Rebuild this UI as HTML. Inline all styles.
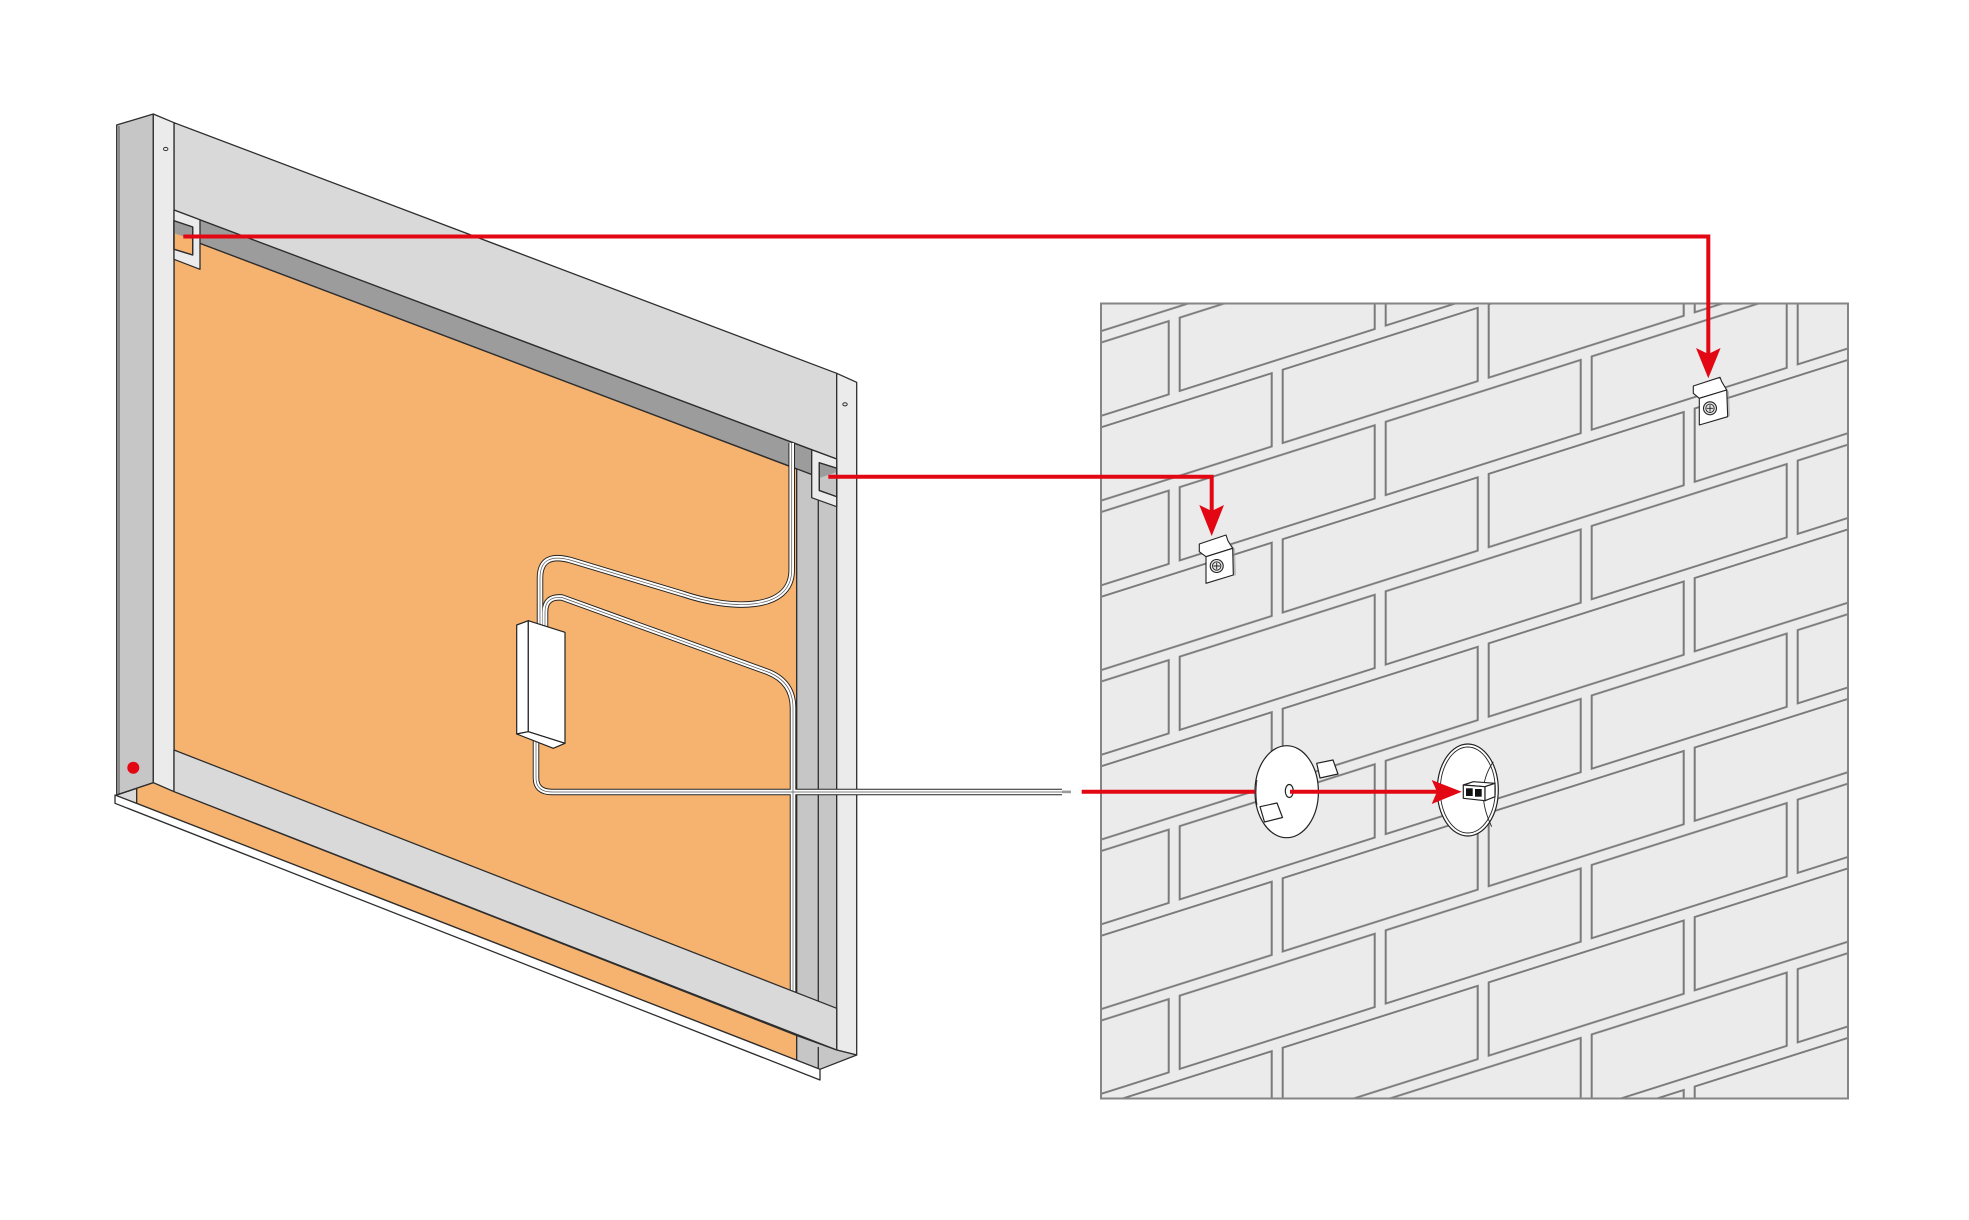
<!DOCTYPE html>
<html>
<head>
<meta charset="utf-8">
<style>
html,body{margin:0;padding:0;background:#fff;}
svg{display:block;}
</style>
</head>
<body>
<svg width="1969" height="1220" viewBox="0 0 1969 1220" xmlns="http://www.w3.org/2000/svg">
<defs>
<pattern id="bricks" patternUnits="userSpaceOnUse" x="1277.7" y="771.6" width="206" height="169.5" patternTransform="skewY(-17.6)">
<rect x="0" y="0" width="206" height="169.5" fill="#ebebeb"/>
<g fill="none" stroke="#7a7a7a" stroke-width="2">
<rect x="5" y="5" width="195" height="73.3"/>
<rect x="-98" y="89.75" width="195" height="73.3"/>
<rect x="108" y="89.75" width="195" height="73.3"/>
</g>
</pattern>
</defs>

<!-- WALL -->
<rect x="1101" y="303.5" width="747" height="795" fill="url(#bricks)"/>
<rect x="1101" y="303.5" width="747" height="795" fill="none" stroke="#858585" stroke-width="2"/>

<!-- FRAME (back parts) -->
<g stroke="#2e2e2e" stroke-width="1.3" stroke-linejoin="round">
<polygon points="174,233.5 796.7,469 796.7,1036 174,750" fill="#f6b370"/>
<polygon points="796.7,440 836.7,455 836.7,1050 796.7,1036" fill="#c6c6c6"/>
<line x1="818.3" y1="500" x2="818.3" y2="1003"/>
<polygon points="174,210 811.7,449.8 811.7,474.5 174,233.5" fill="#9c9c9c"/>
<polygon points="174,122.7 836.7,373.3 836.7,459 174,210" fill="#d9d9d9"/>
<polygon points="836.7,373.3 856.7,382.3 856.7,1055 836.7,1050" fill="#ebebeb"/>
<ellipse cx="845" cy="404.3" rx="2.2" ry="1.6" fill="none" stroke-width="1"/>
<polygon points="116.7,125 153.3,114 153.3,782.7 116.7,795" fill="#c6c6c6"/>
<line x1="119" y1="126" x2="119" y2="794" stroke-width="0.8"/>
<polygon points="153.3,114 174,122.7 174,791.7 153.3,782.7" fill="#ebebeb"/>
<ellipse cx="165.7" cy="149" rx="2.2" ry="1.6" fill="none" stroke-width="1"/>
<polygon points="174,210 200,219.8 200,269.3 174,259.3" fill="#ebebeb"/>
<polygon points="174,220.7 192.7,227 192.7,255 174,249.3" fill="#f6b370"/>
<polygon points="174,220.7 192.7,227 192.7,239.5 174,233.3" fill="#9c9c9c" stroke="none"/>
<polygon points="174,220.7 192.7,227 192.7,255 174,249.3" fill="none"/>
<polygon points="811.7,449.8 836.7,459 836.7,506.7 820,500.7 811.7,497.7" fill="#ebebeb"/>
<polygon points="819.3,462.7 836.7,468.3 836.7,496.7 819.3,490.5" fill="#c6c6c6"/>
<polygon points="819.3,462.7 836.7,468.3 836.7,472 819.3,478" fill="#9c9c9c" stroke="none"/>
<polygon points="819.3,462.7 836.7,468.3 836.7,496.7 819.3,490.5" fill="none"/>
</g>

<!-- WIRES -->
<g fill="none" stroke-linecap="butt" stroke-linejoin="round">
<g stroke="#222" stroke-width="6.5">
<path d="M791.7,443 V570 C791.7,612 730,610 683,594 L570,560 Q540,552 540,578 V628"/>
<path d="M545,632 V612 Q545,596 562,597.5 L768,672 Q793,682 793,708 V998"/>
<path d="M536,740 V778 Q536,792 552,792 H1062"/>
</g>
<g stroke="#fff" stroke-width="4.6">
<path d="M791.7,443 V570 C791.7,612 730,610 683,594 L570,560 Q540,552 540,578 V628"/>
<path d="M545,632 V612 Q545,596 562,597.5 L768,672 Q793,682 793,708 V998"/>
<path d="M536,740 V778 Q536,792 552,792 H1062"/>
</g>
<g stroke="#555" stroke-width="0.7">
<path d="M791.7,443 V570 C791.7,612 730,610 683,594 L570,560 Q540,552 540,578 V628"/>
<path d="M545,632 V612 Q545,596 562,597.5 L768,672 Q793,682 793,708 V998"/>
<path d="M536,740 V778 Q536,792 552,792 H1062"/>
</g>
</g>
<rect x="1062" y="790.6" width="9" height="2.6" fill="#9a9a9a"/>

<!-- FRAME (front parts) -->
<g stroke="#2e2e2e" stroke-width="1.3" stroke-linejoin="round">
<polygon points="174,750 836.7,1008.3 836.7,1050 174,791.7" fill="#d9d9d9"/>
<polygon points="116.7,795 136.7,788.3 136.7,803.4 116.7,796" fill="#d9d9d9"/>
<line x1="116.7" y1="795" x2="153.3" y2="782.7"/>
<polygon points="136.7,788.3 153.3,782.7 174,791.7 796.7,1035.5 796.7,1060.2 136.7,803.4" fill="#f6b370"/>
<polygon points="796.7,1035.5 836.7,1050 856.7,1055 820,1069.3 796.7,1060.2" fill="#c6c6c6"/>
<line x1="818.3" y1="1047" x2="818.3" y2="1068"/>
<polygon points="115,795 820,1069.3 820,1080 115,803.3" fill="#ffffff"/>
</g>

<!-- DRIVER BOX -->
<g stroke="#222" stroke-width="1.2" fill="#fff" stroke-linejoin="round">
<polygon points="516.7,625 528.3,620.7 528.3,731.7 516.7,734"/>
<polygon points="528.3,620.7 565,632.3 565,743.3 528.3,731.7"/>
<polygon points="516.7,734 528.3,731.7 565,743.3 553.3,748.3"/>
</g>

<!-- red dot -->
<circle cx="133.3" cy="767.7" r="6" fill="#e30613"/>

<!-- FASTENERS -->
<g stroke="#222" stroke-width="1.1" stroke-linejoin="round">
<polygon points="1228,540 1235,549 1236,575 1233.3,576" fill="#9a9a9a" stroke="none" opacity="0.6"/>
<polygon points="1199.3,544 1226,535 1228,541 1232.7,548.3 1206,556.7 1199.3,551.7" fill="#fff"/>
<polygon points="1206,556.7 1232.7,548.3 1233.3,575 1206,583.3" fill="#fff"/>
<circle cx="1216.7" cy="566" r="6.5" fill="#e6e6e6"/>
<circle cx="1216.7" cy="566" r="4.2" fill="none" stroke-width="0.9"/>
<path d="M1213.5,566 h6.4 M1216.7,562.8 v6.4" stroke-width="0.9"/>

<polygon points="1722,382 1729,392 1730,416 1727.7,417" fill="#9a9a9a" stroke="none" opacity="0.6"/>
<polygon points="1693.3,386 1720,377.3 1721.7,381.7 1726.7,390 1699.3,398.3 1693.3,393.3" fill="#fff"/>
<polygon points="1699.3,398.3 1726.7,390 1727.7,416.7 1699.3,425" fill="#fff"/>
<circle cx="1710" cy="408.3" r="6.5" fill="#e6e6e6"/>
<circle cx="1710" cy="408.3" r="4.2" fill="none" stroke-width="0.9"/>
<path d="M1706.8,408.3 h6.4 M1710,405.1 v6.4" stroke-width="0.9"/>
</g>

<!-- DISC 1 (rosette) -->
<g stroke="#222" stroke-width="1.2" stroke-linejoin="round">
<polygon points="1316.7,763.3 1333,760 1338,774 1320,778" fill="#fff"/>
<ellipse cx="1286.7" cy="791.7" rx="31.7" ry="46" fill="#fff"/>
<path d="M1257,780 Q1255,792 1257,805" fill="none" stroke-width="0.8"/>
<polygon points="1260,806.7 1277,803 1282.5,817.5 1264.5,822" fill="#fff"/>
<ellipse cx="1289.3" cy="791" rx="4" ry="6.5" fill="#fff"/>
</g>

<!-- DISC 2 -->
<g stroke="#222" stroke-width="1.2" stroke-linejoin="round">
<ellipse cx="1467.8" cy="790" rx="30.5" ry="46" fill="#fff"/>
<ellipse cx="1467.8" cy="790" rx="27.5" ry="43" fill="none" stroke-width="0.9"/>
<path d="M1493.3,761.7 Q1474,790 1491.7,826.7" fill="none" stroke-width="0.9"/>
<polygon points="1463.3,785 1473.3,781.7 1495,783.3 1485,786.7" fill="#fff"/>
<polygon points="1463.3,785 1485,786.7 1485,800.7 1463.3,798.3" fill="#fff"/>
<polygon points="1485,786.7 1495,783.3 1495,796.7 1485,800.7" fill="#fff"/>
<rect x="1466" y="788.3" width="6.7" height="7.7" fill="#111" stroke="none"/>
<rect x="1475" y="789" width="6.7" height="7.7" fill="#111" stroke="none"/>
</g>

<!-- RED CONNECTORS -->
<g fill="none" stroke="#e30613" stroke-width="4">
<path d="M183.3,236.5 H1708.3 V356"/>
<path d="M828.3,476.7 H1211.7 V512"/>
<path d="M1081.7,791.7 H1255"/>
<path d="M1290,791.7 H1438"/>
</g>
<g fill="#e30613">
<polygon points="1696,348 1708.3,354 1720.6,348 1708.3,378.3"/>
<polygon points="1199.3,505 1211.7,511 1224,505 1211.7,536"/>
<polygon points="1431.7,780 1437,791.7 1431.7,804 1461.7,791.7"/>
</g>
</svg>
</body>
</html>
